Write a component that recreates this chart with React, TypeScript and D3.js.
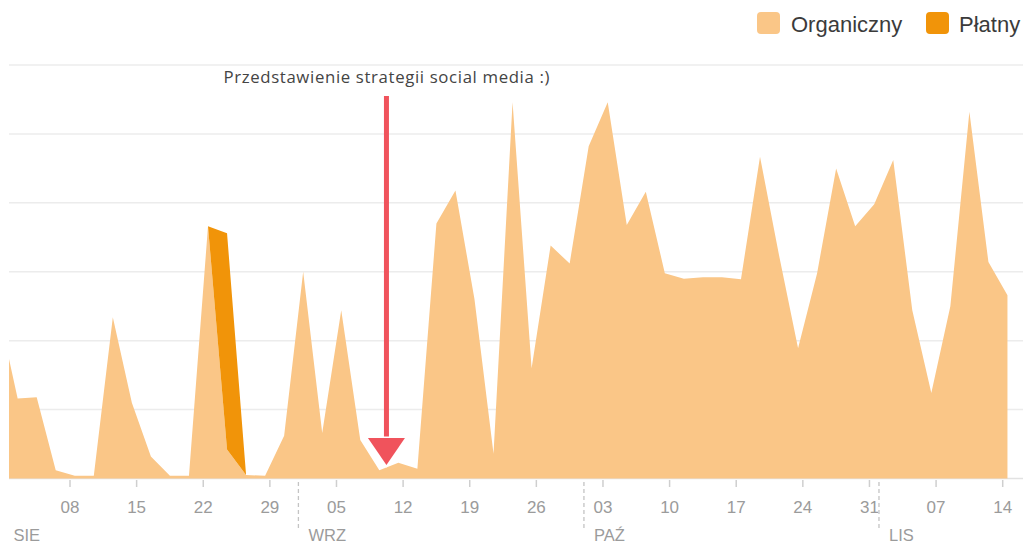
import React from "react";
import * as d3 from "d3";

// Data: 2-day buckets (noon UTC), values in arbitrary units (gridline step = 50)
const dates: string[] = [
  "2021-07-31", "2021-08-02", "2021-08-04", "2021-08-06", "2021-08-08", "2021-08-10",
  "2021-08-12", "2021-08-14", "2021-08-16", "2021-08-18", "2021-08-20", "2021-08-22",
  "2021-08-24", "2021-08-26", "2021-08-28", "2021-08-30", "2021-09-01", "2021-09-03",
  "2021-09-05", "2021-09-07", "2021-09-09", "2021-09-11", "2021-09-13", "2021-09-15",
  "2021-09-17", "2021-09-19", "2021-09-21", "2021-09-23", "2021-09-25", "2021-09-27",
  "2021-09-29", "2021-10-01", "2021-10-03", "2021-10-05", "2021-10-07", "2021-10-09",
  "2021-10-11", "2021-10-13", "2021-10-15", "2021-10-17", "2021-10-19", "2021-10-21",
  "2021-10-23", "2021-10-25", "2021-10-27", "2021-10-29", "2021-10-31", "2021-11-02",
  "2021-11-04", "2021-11-06", "2021-11-08", "2021-11-10", "2021-11-12", "2021-11-14",
];

const organic: number[] = [
  121, 58, 59, 6, 2, 2,
  117, 55, 16, 2, 2, 183,
  21, 2.5, 2, 31, 150, 33,
  122, 28, 6, 11.5, 7, 185,
  209, 130, 18, 273, 80, 169,
  156, 241, 273, 184, 208, 149,
  145, 146, 146, 144.5, 233.5, 162,
  94.5, 149, 225, 183, 199, 231,
  122, 62, 125, 266, 157, 133,
];

const paid: number[] = [
  0, 0, 0, 0, 0, 0,
  0, 0, 0, 0, 0, 0,
  157, 0, 0, 0, 0, 0,
  0, 0, 0, 0, 0, 0,
  0, 0, 0, 0, 0, 0,
  0, 0, 0, 0, 0, 0,
  0, 0, 0, 0, 0, 0,
  0, 0, 0, 0, 0, 0,
  0, 0, 0, 0, 0, 0,
];

const seriesNames: string[] = ["Organiczny", "Płatny"];
const monthLabels: string[] = ["SIE", "WRZ", "PAŹ", "LIS"];
const gridValues: number[] = [0, 50, 100, 150, 200, 250, 300];
const annotationText = "Przedstawienie strategii social media :)";
const annotationDate = "2021-09-10T06:00:00Z";

const W = 1023;
const H = 545;
const plotLeft = 9;
const plotRight = 1023;

const ORGANIC = "#FAC687";
const PAID = "#F19409";
const RED = "#F0535C";
const AXIS_TXT = "#9b9b9b";

const parse = (s: string) => new Date(s + "T12:00:00Z");

export default function App() {
  const x = d3
    .scaleUtc()
    .domain([new Date("2021-08-08T00:00:00Z"), new Date("2021-11-14T00:00:00Z")])
    .range([70, 1002.7]);
  const y = d3.scaleLinear().domain([0, 300]).range([478.5, 65]);

  const rows = dates.map((d, i) => ({ date: parse(d), o: organic[i], p: paid[i] }));

  const areaOrg = d3
    .area<any>()
    .x((d) => x(d.date))
    .y0(() => y(0))
    .y1((d) => y(d.o));
  const areaPaid = d3
    .area<any>()
    .x((d) => x(d.date))
    .y0((d) => y(d.o))
    .y1((d) => y(d.o + d.p));

  const weekTicks = d3.utcSunday.range(
    new Date("2021-08-08T00:00:00Z"),
    new Date("2021-11-15T00:00:00Z")
  );
  const monthStarts = d3.utcMonth.range(
    new Date("2021-08-01T00:00:00Z"),
    new Date("2021-11-02T00:00:00Z")
  );
  const fmt = d3.utcFormat("%d");

  const ax = x(new Date(annotationDate));

  return (
    <svg
      width={W}
      height={H}
      style={{ position: "absolute", left: 0, top: 0, background: "#fff" }}
      fontFamily="'Liberation Sans', Arial, sans-serif"
    >
      <defs>
        <clipPath id="plotClip">
          <rect x={plotLeft} y={0} width={plotRight - plotLeft} height={480} />
        </clipPath>
      </defs>

      {/* gridlines */}
      {gridValues.map((v) => (
        <line
          key={v}
          x1={plotLeft}
          x2={plotRight}
          y1={y(v)}
          y2={y(v)}
          stroke={v === 0 ? "#e2e2e2" : "#ececec"}
          strokeWidth={1.5}
        />
      ))}

      {/* areas */}
      <g clipPath="url(#plotClip)">
        <path d={areaOrg(rows) || ""} fill={ORGANIC} />
        <path d={areaPaid(rows) || ""} fill={PAID} />
      </g>

      {/* x ticks */}
      {weekTicks.map((t) => (
        <g key={t.toISOString()}>
          <line x1={x(t)} x2={x(t)} y1={480} y2={487} stroke="#cfcfcf" strokeWidth={1.5} />
          <text x={x(t)} y={513} textAnchor="middle" fontSize={17} fill={AXIS_TXT}>
            {fmt(t)}
          </text>
        </g>
      ))}

      {/* month separators and labels */}
      {monthStarts.map((m, i) => (
        <g key={m.toISOString()}>
          {x(m) > plotLeft && (
            <line
              x1={x(m)}
              x2={x(m)}
              y1={482}
              y2={531}
              stroke="#c4c4c4"
              strokeWidth={1.3}
              strokeDasharray="4,3"
            />
          )}
          <text x={x(m) + 10} y={541} fontSize={16.5} fill={AXIS_TXT}>
            {monthLabels[i]}
          </text>
        </g>
      ))}

      {/* annotation */}
      <text
        x={ax}
        y={83}
        textAnchor="middle"
        fontSize={16.8}
        fill="#444"
        fontFamily="'Open Sans', sans-serif"
        textLength={326}
        lengthAdjust="spacing"
      >
        {annotationText}
      </text>
      <line x1={ax} x2={ax} y1={96} y2={440} stroke={RED} strokeWidth={5} />
      <path
        d={`M${ax - 18.5},438 L${ax + 18.5},438 L${ax},465 Z`}
        fill={RED}
        stroke="#fff"
        strokeWidth={3}
        strokeLinejoin="miter"
        paintOrder="stroke"
      />

      {/* legend */}
      <rect x={757} y={12} width={23} height={22} rx={4} fill={ORGANIC} />
      <text x={791} y={32} fontSize={22} fill="#3b3b3b">
        {seriesNames[0]}
      </text>
      <rect x={926} y={12} width={23} height={22} rx={4} fill={PAID} />
      <text x={959} y={32} fontSize={22} fill="#3b3b3b">
        {seriesNames[1]}
      </text>
    </svg>
  );
}
